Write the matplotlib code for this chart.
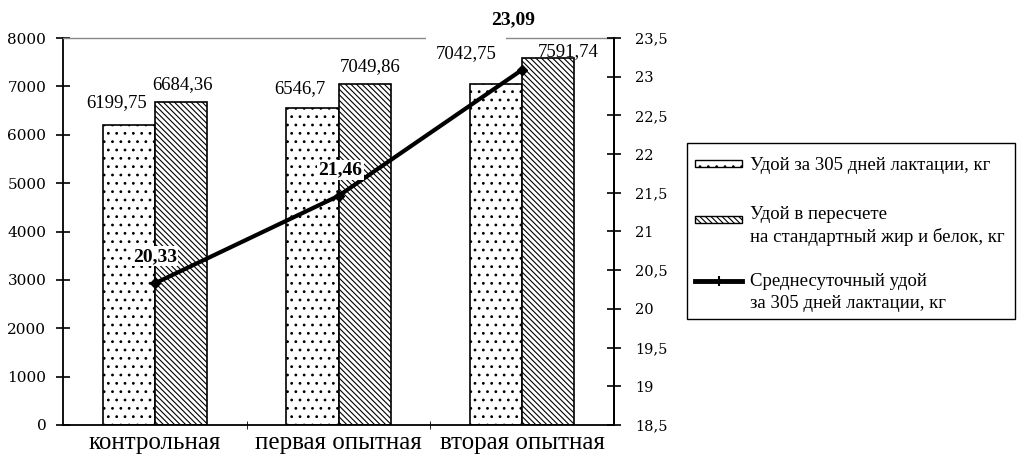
import numpy as np
import matplotlib.pyplot as plt
from matplotlib.patches import Rectangle
from matplotlib.lines import Line2D

plt.rcParams['font.family'] = ['Liberation Serif', 'DejaVu Serif']
plt.rcParams['hatch.linewidth'] = 0.8

groups = ['контрольная', 'первая опытная', 'вторая опытная']
milk_305 = [6199.75, 6546.7, 7042.75]
milk_std = [6684.36, 7049.86, 7591.74]
daily_milk = [20.33, 21.46, 23.09]

left_ticks = [0, 1000, 2000, 3000, 4000, 5000, 6000, 7000, 8000]
right_ticks = [18.5, 19, 19.5, 20, 20.5, 21, 21.5, 22, 22.5, 23, 23.5]

legend_labels = [
    ['Удой за 305 дней лактации, кг'],
    ['Удой в пересчете', 'на стандартный жир и белок, кг'],
    ['Среднесуточный удой', 'за 305 дней лактации, кг'],
]

DOTS = '..'
STRIPES = '\\' * 6


def comma(v):
    return ('%g' % v).replace('.', ',')


W, H = 1024, 459
fig = plt.figure(figsize=(W / 100, H / 100), dpi=100)
ax = fig.add_axes([63 / W, 34 / H, 551 / W, 387 / H])
ax2 = ax.twinx()

x = np.arange(len(groups))
w = 0.284
ax.bar(x - w / 2, milk_305, w, color='white', edgecolor='black',
       linewidth=1.2, hatch=DOTS)
ax.bar(x + w / 2, milk_std, w, color='white', edgecolor='black',
       linewidth=1.2, hatch=STRIPES)

ax.set_xlim(-0.5, 2.5)
ax.set_ylim(0, 8000)
ax.set_yticks(left_ticks)
ax.set_yticklabels([str(t) for t in left_ticks], fontsize=11,
                   family='DejaVu Serif')
ax.set_xticks(x)
ax.set_xticklabels(groups, fontsize=18)
ax.tick_params(axis='x', length=0, pad=5)
ax.set_xticks([0.5, 1.5], minor=True)
ax.tick_params(axis='x', which='minor', direction='inout', length=6)
ax.tick_params(axis='y', direction='inout', length=10, width=1.2, pad=7)

for s in ['left', 'bottom', 'right']:
    ax.spines[s].set_linewidth(1.3)
ax.spines['top'].set_color('#888888')
ax.spines['top'].set_linewidth(1.0)

# value labels over the bars, offsets in pixels from the bar top
offs_305 = [(-12, 22), (-13, 20), (-30, 31)]
offs_std = [(2, 17), (6, 17), (20, 6)]
for i in range(len(groups)):
    bbox = None
    if i == 2:
        bbox = dict(facecolor='white', edgecolor='none', pad=7)
    ax.annotate(comma(milk_305[i]), (x[i] - w / 2, milk_305[i]),
                xytext=offs_305[i], textcoords='offset pixels',
                ha='center', va='center', fontsize=13.5, bbox=bbox, zorder=5)
    ax.annotate(comma(milk_std[i]), (x[i] + w / 2, milk_std[i]),
                xytext=offs_std[i], textcoords='offset pixels',
                ha='center', va='center', fontsize=13.5, zorder=5)

ax2.plot(x, daily_milk, color='black', linewidth=3, marker='D', markersize=5)
ax2.set_ylim(18.5, 23.5)
ax2.set_yticks(right_ticks)
ax2.set_yticklabels([comma(t) for t in right_ticks], fontsize=10.5,
                    family='DejaVu Serif')
ax2.tick_params(axis='y', direction='inout', length=10, width=1.2, pad=10)
ax2.spines['right'].set_linewidth(1.3)
for s in ['top', 'left', 'bottom']:
    ax2.spines[s].set_visible(False)

offs_daily = [(0, 27), (2, 26), (-9, 50)]
for i, v in enumerate(daily_milk):
    ax2.annotate(comma(v), (x[i], v), xytext=offs_daily[i],
                 textcoords='offset pixels', ha='center', va='center',
                 fontsize=14, fontweight='bold',
                 bbox=dict(facecolor='white', edgecolor='none', pad=1),
                 annotation_clip=False)


# legend box drawn in figure pixels
def fx(px):
    return px / W


def fy(py):
    return 1 - py / H


fig.add_artist(Rectangle((fx(687), fy(319)), fx(1015) - fx(687),
                         fy(143) - fy(319), transform=fig.transFigure,
                         facecolor='white', edgecolor='black', linewidth=1.0))
fig.add_artist(Rectangle((fx(695), fy(167)), fx(47), 7 / H,
                         transform=fig.transFigure, facecolor='white',
                         edgecolor='black', linewidth=1.0, hatch=DOTS))
fig.add_artist(Rectangle((fx(695), fy(223)), fx(47), 7 / H,
                         transform=fig.transFigure, facecolor='white',
                         edgecolor='black', linewidth=1.0, hatch=STRIPES))
fig.add_artist(Line2D([fx(695), fx(742)], [fy(281), fy(281)],
                      transform=fig.transFigure, color='black', linewidth=3.5))
fig.add_artist(Line2D([fx(718.5)], [fy(281)], transform=fig.transFigure,
                      color='black', marker='+', markersize=7, mew=1.5))

line_y = [[165], [214, 237], [281, 303]]
for labels, ys in zip(legend_labels, line_y):
    for lab, py in zip(labels, ys):
        fig.text(fx(750), fy(py), lab, ha='left', va='center', fontsize=13.5)

fig.savefig('out.png', dpi=100)
